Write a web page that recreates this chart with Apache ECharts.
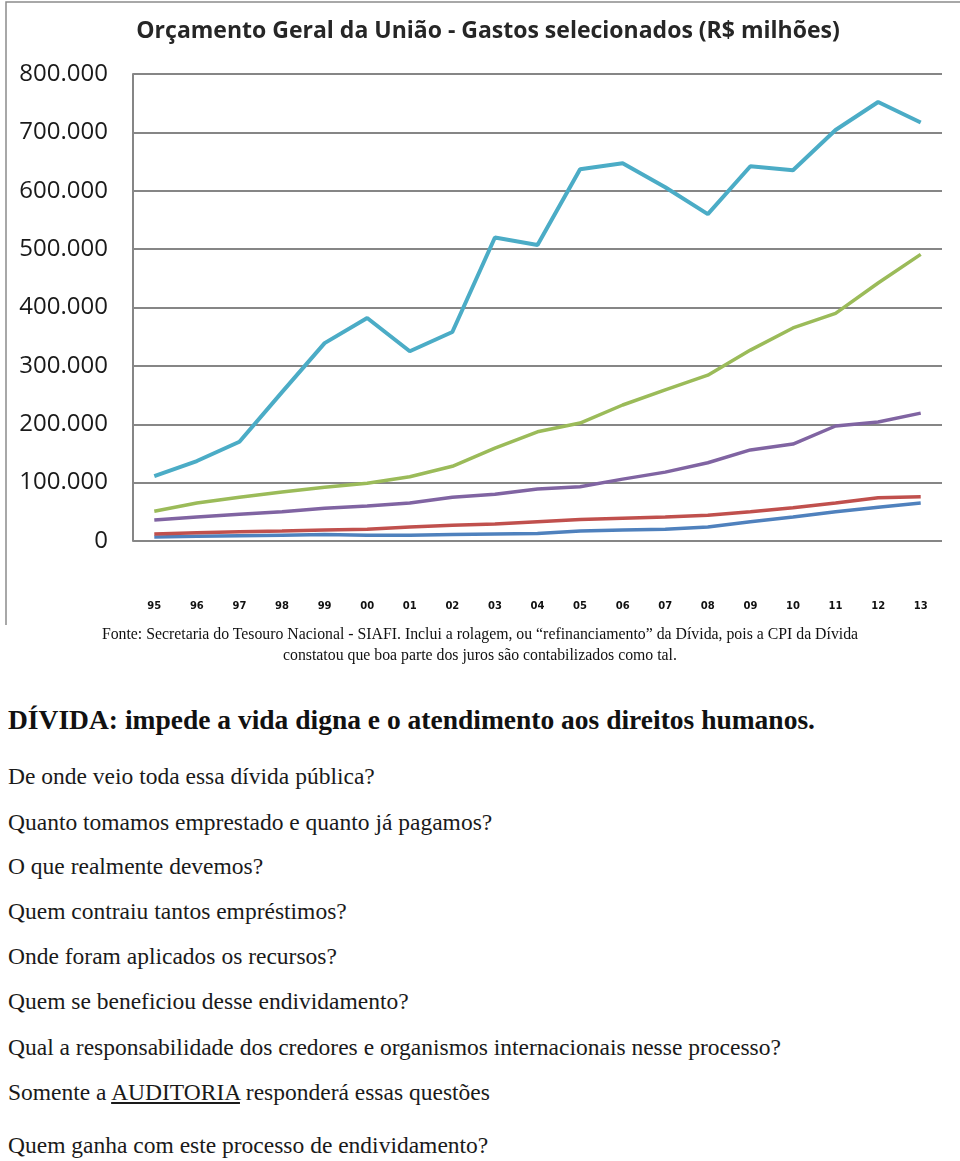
<!DOCTYPE html>
<html>
<head>
<meta charset="utf-8">
<script src="https://cdn.jsdelivr.net/npm/echarts@6/dist/echarts.min.js"></script>
<style>
  html, body { margin: 0; padding: 0; background: #fff; }
  body { width: 960px; height: 1161px; position: relative; overflow: hidden; }
  #chart { position: absolute; left: 0; top: 0; width: 960px; height: 625px; }
  .t { position: absolute; font-family: "Liberation Serif", "DejaVu Serif", serif; color: #111; white-space: nowrap; }
  .src { font-size: 15.8px; width: 960px; text-align: center; left: 0; line-height: 20px; }
  .h { font-size: 27.5px; font-weight: bold; left: 8px; line-height: 32px; }
  .q { font-size: 23.5px; left: 8px; line-height: 28px; color: #1a1a1a; }
  u { text-underline-offset: 2px; }
</style>
</head>
<body>
<div id="chart"></div>
<div class="t src" style="top:624px;">Fonte: Secretaria do Tesouro Nacional - SIAFI. Inclui a rolagem, ou “refinanciamento” da Dívida, pois a CPI da Dívida</div>
<div class="t src" style="top:645px;">constatou que boa parte dos juros são contabilizados como tal.</div>
<div class="t h" style="top:704px;">DÍVIDA: impede a vida digna e o atendimento aos direitos humanos.</div>
<div class="t q" style="top:762px;">De onde veio toda essa dívida pública?</div>
<div class="t q" style="top:808px;">Quanto tomamos emprestado e quanto já pagamos?</div>
<div class="t q" style="top:852px;">O que realmente devemos?</div>
<div class="t q" style="top:897px;">Quem contraiu tantos empréstimos?</div>
<div class="t q" style="top:942px;">Onde foram aplicados os recursos?</div>
<div class="t q" style="top:987px;">Quem se beneficiou desse endividamento?</div>
<div class="t q" style="top:1033px;">Qual a responsabilidade dos credores e organismos internacionais nesse processo?</div>
<div class="t q" style="top:1078px;">Somente a <u>AUDITORIA</u> responderá essas questões</div>
<div class="t q" style="top:1131px;">Quem ganha com este processo de endividamento?</div>
<script>
// Categories (years, labels illegible in the reference)
const years = ['95','96','97','98','99','00','01','02','03','04','05','06','07','08','09','10','11','12','13'];
// Series values (R$ milhões)
const serieTeal   = [111000,137000,170000,255000,339000,382000,325000,358000,520000,507000,637000,647000,606000,560000,642000,635000,704000,752000,717000];
const serieGreen  = [51000,65000,75000,84000,92000,99000,110000,128000,159000,187000,202000,233000,259000,284000,327000,365000,390000,442000,491000];
const seriePurple = [36000,41000,46000,50000,56000,60000,65000,75000,80000,89000,93000,106000,118000,134000,156000,166000,197000,204000,219000];
const serieRed    = [12000,14000,16000,17000,19000,20000,24000,27000,29000,33000,37000,39000,41000,44000,50000,57000,65000,74000,76000];
const serieBlue   = [7000,8000,9000,10000,11000,10000,10000,11000,12000,13000,17000,19000,20000,24000,33000,41000,50000,58000,65000];
const yTicks = { min: 0, max: 800000, interval: 100000 };

const chart = echarts.init(document.getElementById('chart'), null, { renderer: 'canvas' });
function mk(name, data, color, w) {
  return { name, type: 'line', data, showSymbol: false, symbol: 'none',
           lineStyle: { color, width: w }, itemStyle: { color }, animation: false };
}
chart.setOption({
  animation: false,
  title: {
    text: 'Orçamento Geral da União - Gastos selecionados (R$ milhões)',
    left: 483, top: 15, textAlign: 'center',
    textStyle: { fontFamily: 'Open Sans', fontWeight: 'bold', fontSize: 23, color: '#262626' }
  },
  graphic: [
    { type: 'polyline', shape: { points: [[6, 625], [6, 2], [960, 2]] },
      style: { stroke: '#8c8c8c', lineWidth: 1.5, fill: null } }
  ],
  grid: { left: 133, right: 18, top: 74, bottom: 84 },
  xAxis: {
    type: 'category', data: years, boundaryGap: true,
    axisLine: { show: false }, axisTick: { show: false },
    axisLabel: { margin: 60, fontFamily: 'DejaVu Sans', fontWeight: 'bold', fontSize: 10, color: '#111' }
  },
  yAxis: {
    type: 'value', min: yTicks.min, max: yTicks.max, interval: yTicks.interval,
    axisLine: { show: true, lineStyle: { color: '#868686', width: 2 } },
    axisTick: { show: false },
    splitLine: { lineStyle: { color: '#868686', width: 2 } },
    axisLabel: {
      margin: 25, fontFamily: 'Open Sans', fontSize: 24, color: '#1a1a1a',
      formatter: v => v === 0 ? '0' : (v / 1000).toFixed(0) + '.000'
    }
  },
  series: [
    mk('Azul', serieBlue, '#4F81BD', 3.5),
    mk('Vermelho', serieRed, '#C0504D', 3.5),
    mk('Roxo', seriePurple, '#8064A2', 3.5),
    mk('Verde', serieGreen, '#9BBB59', 3.5),
    mk('Turquesa', serieTeal, '#4BACC6', 4)
  ]
});
</script>
</body>
</html>
